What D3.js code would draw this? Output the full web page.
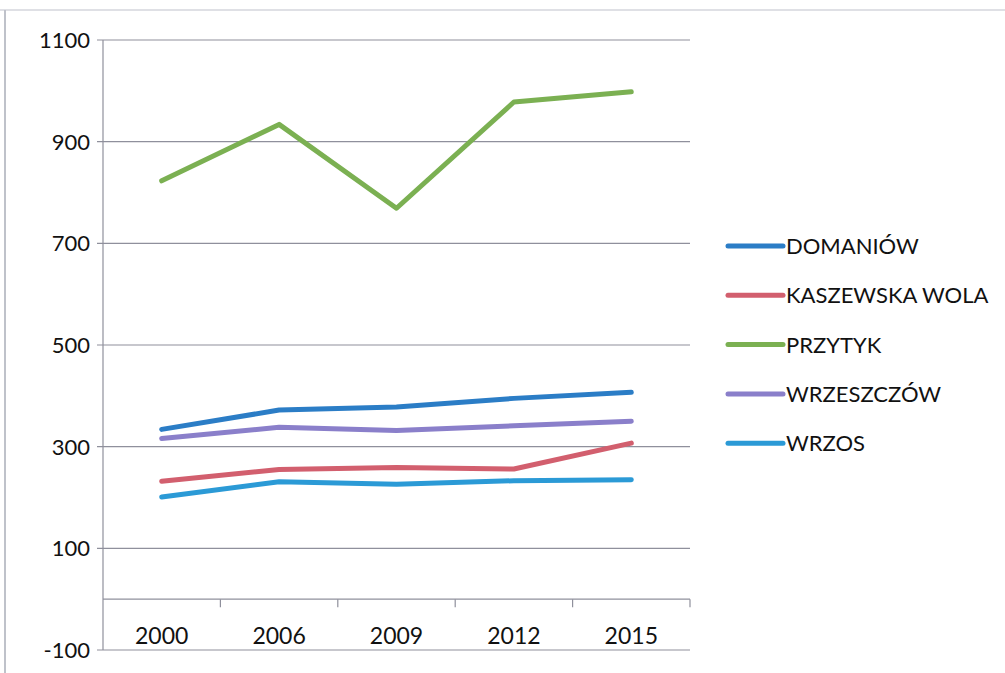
<!DOCTYPE html>
<html>
<head>
<meta charset="utf-8">
<script src="https://cdn.jsdelivr.net/npm/d3@7"></script>
<style>
  body { margin: 0; background: #fff; }
  svg { font-family: Lato, "Open Sans", sans-serif; }
  .grid line { stroke: #8f909c; stroke-width: 1.2; }
  .ylabel { font-size: 22px; fill: #111; text-anchor: end; }
  .xlabel { font-size: 23px; fill: #111; text-anchor: middle; }
  .legend text { font-size: 22px; fill: #111; }
  .series { fill: none; stroke-width: 5; stroke-linejoin: round; stroke-linecap: round; }
</style>
</head>
<body>
<svg width="1005" height="673"></svg>
<script>
const years = ["2000", "2006", "2009", "2012", "2015"];
const yTicks = [-100, 100, 300, 500, 700, 900, 1100];

const names = ["DOMANIÓW", "KASZEWSKA WOLA", "PRZYTYK", "WRZESZCZÓW", "WRZOS"];
const colors = ["#2b7dc6", "#d25f6e", "#7bb052", "#8a7fca", "#2b9ad6"];

const domaniow = [334, 372, 378, 395, 407];
const kaszewska = [232, 255, 259, 256, 307];
const przytyk = [823, 934, 769, 978, 998];
const wrzeszczow = [316, 338, 332, 341, 350];
const wrzos = [201, 231, 226, 233, 235];

const values = [domaniow, kaszewska, przytyk, wrzeszczow, wrzos];

const svg = d3.select("svg");

// faint frame of the scanned page
svg.append("line").attr("x1", 0).attr("x2", 1005).attr("y1", 10).attr("y2", 10)
  .attr("stroke", "#d4d6dc").attr("stroke-width", 1.5);
svg.append("line").attr("x1", 5).attr("x2", 5).attr("y1", 10).attr("y2", 673)
  .attr("stroke", "#bfc2ca").attr("stroke-width", 2);

const x = d3.scaleBand().domain(years).range([103, 690]);
const y = d3.scaleLinear().domain([-100, 1100]).range([650, 40]);

const grid = svg.append("g").attr("class", "grid");

grid.selectAll("line.h")
  .data(yTicks)
  .enter()
  .append("line")
  .attr("class", "h")
  .attr("x1", 97)
  .attr("x2", 690)
  .attr("y1", d => y(d))
  .attr("y2", d => y(d));

// vertical axis
grid.append("line")
  .attr("x1", 103).attr("x2", 103)
  .attr("y1", y(1100)).attr("y2", y(-100));

// horizontal axis at zero
grid.append("line")
  .attr("x1", 103).attr("x2", 690)
  .attr("y1", y(0)).attr("y2", y(0));

// category boundary ticks
grid.selectAll("line.t")
  .data(years)
  .enter()
  .append("line")
  .attr("class", "t")
  .attr("x1", d => x(d) + x.bandwidth())
  .attr("x2", d => x(d) + x.bandwidth())
  .attr("y1", y(0))
  .attr("y2", y(0) + 8);

svg.selectAll("text.ylabel")
  .data(yTicks)
  .enter()
  .append("text")
  .attr("class", "ylabel")
  .attr("x", 90)
  .attr("y", d => y(d) + 8)
  .text(d => d);

svg.selectAll("text.xlabel")
  .data(years)
  .enter()
  .append("text")
  .attr("class", "xlabel")
  .attr("x", d => x(d) + x.bandwidth() / 2)
  .attr("y", 644)
  .text(d => d);

const line = d3.line()
  .x((d, i) => x(years[i]) + x.bandwidth() / 2)
  .y(d => y(d));

svg.selectAll("path.series")
  .data(values)
  .enter()
  .append("path")
  .attr("class", "series")
  .attr("stroke", (d, i) => colors[i])
  .attr("d", line);

const legend = svg.selectAll("g.legend")
  .data(names)
  .enter()
  .append("g")
  .attr("class", "legend")
  .attr("transform", (d, i) => `translate(728, ${246 + i * 49.3})`);

legend.append("line")
  .attr("x1", 0).attr("x2", 55)
  .attr("y1", 0).attr("y2", 0)
  .attr("stroke", (d, i) => colors[i])
  .attr("stroke-width", 5)
  .attr("stroke-linecap", "round");

legend.append("text")
  .attr("x", 58)
  .attr("y", 8)
  .text(d => d);
</script>
</body>
</html>
